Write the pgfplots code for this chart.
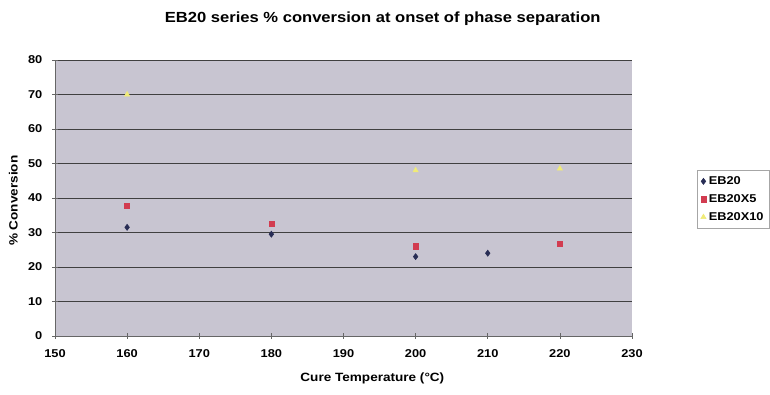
\documentclass[border=0pt]{standalone}
\usepackage{fontspec}
\setmainfont{Liberation Sans}
\newfontfamily\wf[FakeStretch=1.13]{Liberation Sans}
\usepackage{pgfplots}
\pgfplotsset{compat=1.18}
\definecolor{plotbg}{RGB}{200,197,209}
\definecolor{cEB}{RGB}{40,45,85}
\definecolor{cX5}{RGB}{210,60,80}
\definecolor{cX10}{RGB}{240,235,120}
\begin{document}
\begin{tikzpicture}
\path[use as bounding box] (-41.25pt,-44.25pt) rectangle (536.25pt,252pt);
\begin{axis}[
  at={(0,0)}, anchor=south west,
  scale only axis, width=432.75pt, height=207pt,
  xmin=150, xmax=230, ymin=0, ymax=80,
  xtick={150,160,...,230}, ytick={0,10,...,80},
  axis background/.style={fill=plotbg},
  axis line style={draw=gray!80!black, line width=0.6pt},
  axis x line*=bottom, axis y line*=left,
  tick style={draw=gray!80!black, line width=0.5pt},
  tick align=center, major tick length=4pt,
  ymajorgrids, grid style={draw=black!75, line width=0.7pt},
  tick label style={font=\wf\fontsize{8.5}{9}\selectfont\bfseries},
  xticklabel style={yshift=-5pt},
  yticklabel style={xshift=-4pt},
  /pgf/number format/assume math mode=true,
  xlabel={Cure Temperature (°C)}, ylabel={\% Conversion},
  label style={font=\wf\fontsize{9}{10}\selectfont\bfseries},
  xlabel style={at={(rel axis cs:0.55,-0.152)}, anchor=center},
  ylabel style={at={(rel axis cs:-0.072,0.49)}, anchor=center},
  legend style={at={(rel axis cs:1.113,0.601)}, anchor=north west, draw=gray!70, line width=0.4pt,
    font=\wf\fontsize{8.5}{10}\selectfont\bfseries, row sep=2pt, inner sep=2.5pt},
  legend cell align=left,
  clip=false,
]
\addplot[only marks, mark=diamond*, mark size=2.3pt, color=cEB] coordinates {(160,31.5) (180,29.5) (200,23) (210,24)};
\addlegendentry{EB20}
\addplot[only marks, mark=square*, mark size=1.9pt, color=cX5] coordinates {(160,37.8) (180,32.5) (200,26) (220,26.7)};
\addlegendentry{EB20X5}
\addplot[only marks, mark=triangle*, mark size=2.3pt, color=cX10] coordinates {(160,70) (200,48) (220,48.5)};
\addlegendentry{EB20X10}
\node[font=\wf\fontsize{11}{12}\selectfont\bfseries] at (rel axis cs:0.568,1.149) {EB20 series \% conversion at onset of phase separation};
\end{axis}
\end{tikzpicture}
\end{document}
